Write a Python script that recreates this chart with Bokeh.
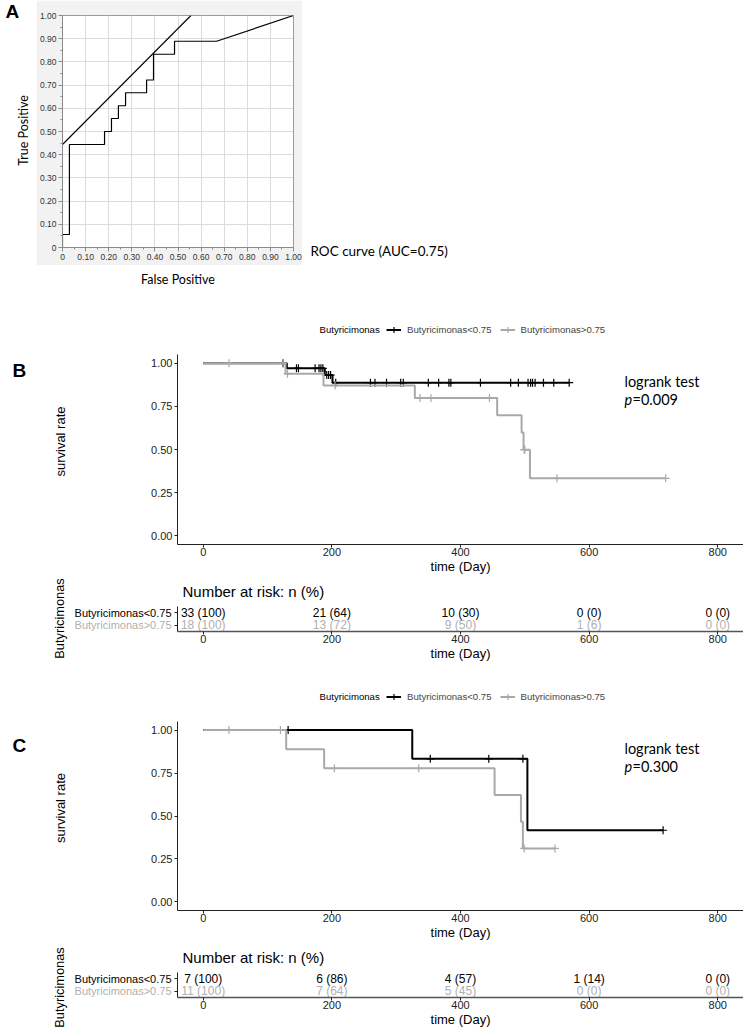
import math
from bokeh.plotting import figure
from bokeh.layouts import column, row
from bokeh.models import (Range1d, FixedTicker, Label, Legend, LegendItem,
                          NumeralTickFormatter, CustomJSTickFormatter)
from bokeh.embed import file_html
from bokeh.resources import INLINE
from bokeh.core.properties import value

# ---------------- DATA ----------------
# Panel A: ROC curve (false positive rate, true positive rate)
roc_fpr = [0.0, 0.0, 0.030, 0.030, 0.182, 0.182, 0.212, 0.212, 0.242, 0.242,
           0.273, 0.273, 0.364, 0.364, 0.394, 0.394, 0.485, 0.485, 0.667, 1.0]
roc_tpr = [0.0, 0.056, 0.056, 0.444, 0.444, 0.500, 0.500, 0.556, 0.556, 0.611,
           0.611, 0.667, 0.667, 0.722, 0.722, 0.833, 0.833, 0.889, 0.889, 1.0]
tangent_fpr = [0.0, 0.556]
tangent_tpr = [0.444, 1.0]
roc_ticks = [0.0, 0.1, 0.2, 0.3, 0.4, 0.5, 0.6, 0.7, 0.8, 0.9, 1.0]
roc_minor = [0.05, 0.15, 0.25, 0.35, 0.45, 0.55, 0.65, 0.75, 0.85, 0.95]

# Panel B: Kaplan-Meier, all patients
b_low_t = [0, 130, 189, 201, 569]
b_low_s = [1.0, 0.970, 0.931, 0.887, 0.887]
b_low_cens_t = [124, 145, 148, 174, 180, 183, 186, 192, 195, 198, 206, 260, 267, 285,
                307, 311, 350, 366, 382, 385, 431, 478, 490, 505, 509, 512, 516, 529, 545, 569]
b_low_cens_s = [1.0, 0.970, 0.970, 0.970, 0.970, 0.970, 0.970, 0.931, 0.931, 0.931,
                0.887, 0.887, 0.887, 0.887, 0.887, 0.887, 0.887, 0.887, 0.887, 0.887,
                0.887, 0.887, 0.887, 0.887, 0.887, 0.887, 0.887, 0.887, 0.887, 0.887]
b_high_t = [0, 128, 187, 329, 457, 495, 498, 508, 719]
b_high_s = [1.0, 0.938, 0.871, 0.798, 0.698, 0.599, 0.499, 0.333, 0.333]
b_high_cens_t = [40, 124, 131, 205, 337, 354, 445, 499, 500, 550, 719]
b_high_cens_s = [1.0, 1.0, 0.938, 0.871, 0.798, 0.798, 0.798, 0.499, 0.499, 0.333, 0.333]

# Panel C: Kaplan-Meier, subgroup
c_low_t = [0, 325, 504, 715]
c_low_s = [1.0, 0.833, 0.417, 0.417]
c_low_cens_t = [132, 353, 444, 497, 715]
c_low_cens_s = [1.0, 0.833, 0.833, 0.833, 0.417]
c_high_t = [0, 129, 188, 453, 494, 497, 547]
c_high_s = [1.0, 0.889, 0.778, 0.622, 0.467, 0.311, 0.311]
c_high_cens_t = [40, 120, 204, 335, 499, 547]
c_high_cens_s = [1.0, 1.0, 0.778, 0.778, 0.311, 0.311]

# Number at risk tables
risk_times = [0, 200, 400, 600, 800]
b_low_n = [33, 21, 10, 0, 0]
b_low_pct = [100, 64, 30, 0, 0]
b_high_n = [18, 13, 9, 1, 0]
b_high_pct = [100, 72, 50, 6, 0]
c_low_n = [7, 6, 4, 1, 0]
c_low_pct = [100, 86, 57, 14, 0]
c_high_n = [11, 7, 5, 0, 0]
c_high_pct = [100, 64, 45, 0, 0]

surv_ticks = [0.0, 0.25, 0.5, 0.75, 1.0]
group_title = "Butyricimonas"
group_low = "Butyricimonas<0.75"
group_high = "Butyricimonas>0.75"

# ---------------- STYLE ----------------
SANS = "Liberation Sans"
CAL = "Lato"
GRAY = "#a9a9a9"
GRAY_TXT = "#b0b0b0"
W = 743
KM_LEFT = 177          # page x of KM frames' left edge
T0, T1 = -40, 840


def lab(fig, x, y, text, size, font=SANS, color="black", align="left",
        baseline="middle", style="normal", angle=0.0, x_offset=0):
    fig.add_layout(Label(x=x, y=y, text=text, text_font=font,
                         text_font_size=f"{size}px", text_color=color,
                         text_align=align, text_baseline=baseline,
                         text_font_style=style, angle=angle, x_offset=x_offset))


def text_fig(w, h, y_off=0):
    # a blank canvas whose data units are pixels from its top-left corner (+ y_off)
    f = figure(width=w, height=h, x_range=Range1d(0, w), y_range=Range1d(h + y_off, y_off),
               x_axis_type=None, y_axis_type=None, toolbar_location=None,
               output_backend="svg", min_border=0, title=None)
    f.outline_line_color = None
    return f


def style_axis(ax, label_size=11):
    ax.axis_line_color = "#222222"
    ax.axis_line_width = 1
    ax.major_tick_line_color = "#222222"
    ax.major_tick_out = 3
    ax.major_tick_in = 0
    ax.minor_tick_line_color = None
    ax.major_label_text_font = SANS
    ax.major_label_text_font_size = f"{label_size}px"
    ax.major_label_text_color = "#222222"
    ax.major_label_standoff = 0
    ax.axis_label_text_font = SANS
    ax.axis_label_text_font_size = "13px"
    ax.axis_label_text_font_style = "normal"
    ax.axis_label_text_color = "black"
    ax.axis_label_standoff = 0


# ---------------- PANEL A ----------------
figAL = text_fig(36, 290)
lab(figAL, 5, 0, "A", 19, style="bold", baseline="top")
lab(figAL, 23, 130, "True Positive", 12.5, font=CAL, align="center", angle=math.pi / 2)

pa = figure(width=266, height=265, x_range=Range1d(0, 1), y_range=Range1d(0, 1),
            min_border_left=25, min_border_right=9, min_border_top=15, min_border_bottom=18,
            toolbar_location=None, output_backend="svg", title=None)
pa.border_fill_color = "#f2f2f2"
pa.background_fill_color = "white"
pa.outline_line_color = "#9a9a9a"
for ax in (pa.xaxis[0], pa.yaxis[0]):
    ax.ticker = FixedTicker(ticks=roc_ticks, minor_ticks=roc_minor)
    ax.formatter = CustomJSTickFormatter(code="return tick == 0 ? '0' : tick.toFixed(2);")
    ax.major_label_text_font = SANS
    ax.major_label_text_font_size = "8.5px"
    ax.major_label_text_color = "#333333"
    ax.major_tick_out = 4
    ax.major_tick_in = 0
    ax.minor_tick_out = 2
    ax.minor_tick_in = 0
    ax.major_tick_line_color = "#8a8a8a"
    ax.minor_tick_line_color = "#8a8a8a"
    ax.axis_line_color = "#8a8a8a"
    ax.major_label_standoff = 2
pa.grid.grid_line_color = "#dcdcdc"
pa.line(roc_fpr, roc_tpr, line_color="black", line_width=1.2)
pa.line(tangent_fpr, tangent_tpr, line_color="black", line_width=1.1)

figAB = text_fig(266, 25)
lab(figAB, 133, 14, "False Positive", 12.5, font=CAL, align="center")

figAR = text_fig(W - 36 - 266, 290)
lab(figAR, 8, 250, "ROC curve (AUC=0.75)", 13.5, font=CAL)

rowA = row(figAL, column(pa, figAB), figAR)


# ---------------- KM PANELS ----------------
def legend_fig(h, center_y, lt, ls, lct, lcs, ht, hs, hct, hcs):
    # the group curves are drawn again here, 100 px above the visible canvas,
    # so that the legend can show their line + censor-mark glyphs
    OFF = 100
    f = text_fig(W, h, y_off=OFF)
    r1 = f.step(lt, ls, mode="after", line_color="black", line_width=2)
    m1 = f.scatter(lct, lcs, marker="cross", size=8, line_color="black", line_width=1.2)
    r2 = f.step(ht, hs, mode="after", line_color=GRAY, line_width=2)
    m2 = f.scatter(hct, hcs, marker="cross", size=8, line_color=GRAY, line_width=1.2)
    leg = Legend(items=[LegendItem(label=group_low, renderers=[r1, m1]),
                        LegendItem(label=group_high, renderers=[r2, m2])],
                 orientation="horizontal",
                 location=(386, h - (center_y + 7.5)),
                 border_line_color=None, background_fill_alpha=0,
                 padding=0, margin=0, spacing=8, label_standoff=6,
                 glyph_width=15, glyph_height=15, label_height=15,
                 label_text_font=SANS, label_text_font_size="9.6px",
                 label_text_baseline="middle")
    f.add_layout(leg)
    lab(f, 319, center_y + OFF, group_title, 9.6)
    return f


def km_row(h, top, bottom, lt, ls, lct, lcs, ht, hs, hct, hcs, letter, letter_y, ptext):
    left_w = KM_LEFT - 30
    left = text_fig(left_w, h)
    fh = h - top - bottom
    lab(left, 12, letter_y, letter, 19, style="bold")
    lab(left, 60, top + fh / 2, "survival rate", 13, align="center", angle=math.pi / 2)

    p = figure(width=W - left_w, height=h, x_range=Range1d(T0, T1),
               y_range=Range1d(-0.05, 1.05),
               min_border_left=30, min_border_right=0,
               min_border_top=top, min_border_bottom=bottom,
               toolbar_location=None, output_backend="svg", title=None)
    p.grid.visible = False
    p.outline_line_color = None
    style_axis(p.xaxis[0])
    style_axis(p.yaxis[0])
    p.xaxis.ticker = FixedTicker(ticks=risk_times)
    p.yaxis.ticker = FixedTicker(ticks=surv_ticks)
    p.yaxis.formatter = NumeralTickFormatter(format="0.00")
    p.yaxis.major_label_standoff = 2
    p.xaxis.axis_label = "time (Day)"

    p.step(lt, ls, mode="after", line_color="black", line_width=2)
    p.scatter(lct, lcs, marker="cross", size=8, line_color="black", line_width=1.2)
    p.step(ht, hs, mode="after", line_color=GRAY, line_width=2)
    p.scatter(hct, hcs, marker="cross", size=8, line_color=GRAY, line_width=1.2)

    lab(p, 655, 0.895, "logrank test", 14.5, font=CAL)
    lab(p, 655, 0.79, "p", 14.5, font=CAL, style="italic")
    lab(p, 655, 0.79, ptext, 14.5, font=CAL, x_offset=8)
    return row(left, p)


def risk_block(low_n, low_pct, high_n, high_pct, label_center):
    title_h, rtop, rfh, rbot = 22, 6, 25, 33
    rh = rtop + rfh + rbot
    left_w = KM_LEFT - 5
    left = text_fig(left_w, title_h + rh)
    row1 = title_h + rtop + rfh * 0.25
    row2 = title_h + rtop + rfh * 0.75
    lab(left, left_w - 1, row1, group_low, 11, align="right")
    lab(left, left_w - 1, row2, group_high, 11, color=GRAY_TXT, align="right")
    lab(left, 59, label_center, group_title, 12.8, align="center", angle=math.pi / 2)

    title = text_fig(W - left_w, title_h)
    lab(title, 5, 13, "Number at risk: n (%)", 15)

    p = figure(width=W - left_w, height=rh, x_range=Range1d(T0, T1),
               y_range=Range1d(0, 2),
               min_border_left=5, min_border_right=0,
               min_border_top=rtop, min_border_bottom=rbot,
               toolbar_location=None, output_backend="svg", title=None)
    p.grid.visible = False
    p.outline_line_color = None
    style_axis(p.xaxis[0])
    style_axis(p.yaxis[0])
    p.xaxis.ticker = FixedTicker(ticks=risk_times)
    p.xaxis.axis_label = "time (Day)"
    p.xaxis.axis_line_color = "#555555"
    p.xaxis.axis_line_width = 1.5
    p.yaxis.ticker = FixedTicker(ticks=[0.5, 1.5])
    p.yaxis.formatter = CustomJSTickFormatter(code="return '';")

    p.text(x=risk_times, y=[1.5] * len(risk_times),
           text=[f"{n} ({c})" for n, c in zip(low_n, low_pct)],
           text_font=value(SANS), text_font_size=value("12px"), text_color="black",
           text_align="center", text_baseline="middle")
    p.text(x=risk_times, y=[0.5] * len(risk_times),
           text=[f"{n} ({c})" for n, c in zip(high_n, high_pct)],
           text_font=value(SANS), text_font_size=value("12px"), text_color=GRAY_TXT,
           text_align="center", text_baseline="middle")
    return row(left, column(title, p))


legB = legend_fig(50, 39, b_low_t, b_low_s, b_low_cens_t, b_low_cens_s,
                  b_high_t, b_high_s, b_high_cens_t, b_high_cens_s)
mainB = km_row(238, 14, 34, b_low_t, b_low_s, b_low_cens_t, b_low_cens_s,
               b_high_t, b_high_s, b_high_cens_t, b_high_cens_s, "B", 20, "=0.009")
riskB = risk_block(b_low_n, b_low_pct, b_high_n, b_high_pct, 40)
legC = legend_fig(43, 32, c_low_t, c_low_s, c_low_cens_t, c_low_cens_s,
                  c_high_t, c_high_s, c_high_cens_t, c_high_cens_s)
mainC = km_row(237, 14, 34, c_low_t, c_low_s, c_low_cens_t, c_low_cens_s,
               c_high_t, c_high_s, c_high_cens_t, c_high_cens_s, "C", 30, "=0.300")
riskC = risk_block(c_low_n, c_low_pct, c_high_n, c_high_pct, 43)

layout = column(rowA, legB, mainB, riskB, legC, mainC, riskC)
open("out.html", "w").write(file_html(layout, INLINE, title="ROC and survival"))
